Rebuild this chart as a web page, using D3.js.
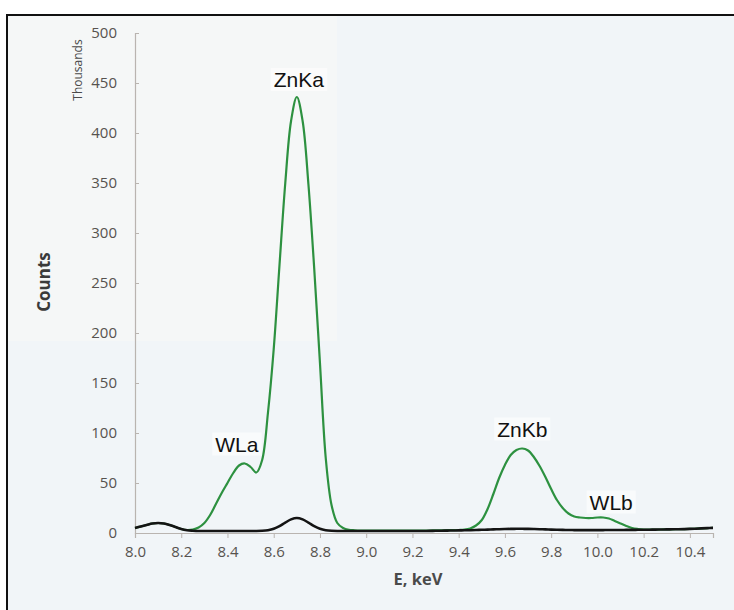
<!DOCTYPE html>
<html>
<head>
<meta charset="utf-8">
<script src="https://cdn.jsdelivr.net/npm/d3@7"></script>
<style>
  html, body { margin: 0; padding: 0; background: #ffffff; }
  svg { display: block; }
</style>
</head>
<body>
<div id="chart"></div>
<script>
// Energy grid, keV
const energy = [
  8.000, 8.025, 8.050, 8.075, 8.100, 8.125, 8.150, 8.175, 8.200, 8.225,
  8.250, 8.275, 8.300, 8.325, 8.350, 8.375, 8.400, 8.425, 8.450, 8.475,
  8.500, 8.525, 8.550, 8.575, 8.600, 8.625, 8.650, 8.675, 8.700, 8.725,
  8.750, 8.775, 8.800, 8.825, 8.850, 8.875, 8.900, 8.925, 8.950, 8.975,
  9.000, 9.025, 9.050, 9.075, 9.100, 9.125, 9.150, 9.175, 9.200, 9.225,
  9.250, 9.275, 9.300, 9.325, 9.350, 9.375, 9.400, 9.425, 9.450, 9.475,
  9.500, 9.525, 9.550, 9.575, 9.600, 9.625, 9.650, 9.675, 9.700, 9.725,
  9.750, 9.775, 9.800, 9.825, 9.850, 9.875, 9.900, 9.925, 9.950, 9.975,
  10.000, 10.025, 10.050, 10.075, 10.100, 10.125, 10.150, 10.175, 10.200, 10.225,
  10.250, 10.275, 10.300, 10.325, 10.350, 10.375, 10.400, 10.425, 10.450, 10.475,
  10.500
];

// Counts (thousands) of the zinc-bearing sample, green trace
const countsZn = [
  5, 6.5, 8, 9.5, 10, 9.5, 8, 6, 4, 3,
  3.5, 5.5, 10, 18, 29, 40, 50, 60, 67.5, 69.5,
  66, 60.5, 73, 120, 184, 268, 350, 412, 436, 412,
  349, 265, 170, 75, 28, 10, 5, 3.2, 2.7, 2.4,
  2.3, 2.3, 2.3, 2.3, 2.3, 2.3, 2.3, 2.3, 2.3, 2.4,
  2.4, 2.5, 2.6, 2.7, 2.8, 2.9, 3.0, 3.3, 4.5, 7.5,
  13, 24, 39, 55, 68, 78, 83, 84.5, 82.5, 76,
  67, 56, 44, 33, 25, 19.5, 16.5, 15.5, 15, 15,
  15.5, 15.5, 14.5, 12, 9.5, 7, 5, 4, 3.4, 3.3,
  3.4, 3.5, 3.6, 3.7, 3.8, 3.9, 4.1, 4.3, 4.6, 4.9,
  5.1
];

// Counts (thousands) of the blank, black trace
const countsBlank = [
  5, 6.5, 8, 9.5, 10, 9.5, 8, 6, 4, 2.8,
  2.3, 2, 2, 2, 2, 2, 2, 2, 2, 2,
  2, 2, 2.2, 2.8, 4.2, 6.8, 10.4, 13.6, 15, 13.6,
  10.4, 6.8, 4.2, 2.8, 2.2, 2, 2, 2, 2, 2,
  2, 2, 2, 2, 2, 2, 2, 2, 2, 2,
  2, 2.1, 2.2, 2.3, 2.4, 2.5, 2.6, 2.7, 2.8, 3,
  3.2, 3.4, 3.6, 3.8, 4, 4.1, 4.2, 4.2, 4.1, 4,
  3.8, 3.6, 3.4, 3.2, 3.1, 3, 2.9, 2.9, 2.9, 2.9,
  2.9, 2.9, 3, 3, 3, 3.1, 3.1, 3.2, 3.2, 3.3,
  3.4, 3.5, 3.6, 3.7, 3.8, 3.9, 4.1, 4.3, 4.6, 4.9,
  5.1
];

// Axis ticks
const xTicks = [8.0, 8.2, 8.4, 8.6, 8.8, 9.0, 9.2, 9.4, 9.6, 9.8, 10.0, 10.2, 10.4];
const yTicks = [0, 50, 100, 150, 200, 250, 300, 350, 400, 450, 500];

// Peak annotations: line name, energy (keV), height (thousands)
const peakNames = ["WLa", "ZnKa", "ZnKb", "WLb"];
const peakEnergy = [8.475, 8.700, 9.675, 10.025];
const peakHeight = [69.5, 436, 84.5, 15.5];

const W = 734, H = 610;
const plot = { left: 135, right: 713, top: 33, bottom: 533 };

const svg = d3.select("#chart").append("svg")
  .attr("width", W).attr("height", H);

// chart area background and frame
svg.append("rect")
  .attr("x", 7).attr("y", 15).attr("width", W + 10).attr("height", H + 10)
  .attr("fill", "#f1f5f8").attr("stroke", "#111").attr("stroke-width", 2);
svg.append("rect")
  .attr("x", 8).attr("y", 16).attr("width", 329).attr("height", 325)
  .attr("fill", "#f5f7f7");

const x = d3.scaleLinear().domain([8.0, 10.5]).range([plot.left, plot.right]);
const y = d3.scaleLinear().domain([0, 500]).range([plot.bottom, plot.top]);

// y axis (ticks point into the plot)
const yAxis = svg.append("g")
  .attr("transform", `translate(${plot.left},0)`)
  .call(d3.axisLeft(y).tickValues(yTicks).tickSize(-4).tickPadding(18).tickFormat(d3.format("d")));
yAxis.select(".domain").attr("stroke", "#b9b4b0").attr("stroke-width", 1.2);
yAxis.selectAll(".tick line").attr("stroke", "#b9b4b0");
yAxis.selectAll(".tick text")
  .attr("font-family", "'Open Sans', sans-serif").attr("font-size", 15)
  .attr("fill", "#57534f");

// x axis
const xAxis = svg.append("g")
  .attr("transform", `translate(0,${plot.bottom})`)
  .call(d3.axisBottom(x).tickValues(xTicks).tickSize(5).tickPadding(8).tickFormat(d3.format(".1f")));
xAxis.select(".domain").attr("stroke", "#b9b4b0").attr("stroke-width", 1.2);
xAxis.selectAll(".tick line").attr("stroke", "#b9b4b0");
xAxis.selectAll(".tick text")
  .attr("font-family", "'Open Sans', sans-serif").attr("font-size", 15)
  .attr("fill", "#57534f");

// axis titles
svg.append("text")
  .attr("transform", `translate(50,282) rotate(-90)`)
  .attr("text-anchor", "middle")
  .attr("font-family", "'Open Sans', sans-serif").attr("font-weight", "bold")
  .attr("font-size", 17).attr("fill", "#3a3a3a")
  .text("Counts");
svg.append("text")
  .attr("transform", `translate(82,70) rotate(-90)`)
  .attr("text-anchor", "middle")
  .attr("font-family", "'Open Sans', sans-serif")
  .attr("font-size", 12).attr("fill", "#4a4a4a")
  .text("Thousands");
svg.append("text")
  .attr("x", 418).attr("y", 585)
  .attr("text-anchor", "middle")
  .attr("font-family", "'Open Sans', sans-serif").attr("font-weight", "bold")
  .attr("font-size", 16.5).attr("fill", "#4a4a4a")
  .text("E, keV");

// spectra
const line = (vals) => d3.line()
  .x((d, i) => x(energy[i]))
  .y(d => y(d))
  .curve(d3.curveCatmullRom.alpha(0.5))(vals);

svg.append("path")
  .attr("d", line(countsZn))
  .attr("fill", "none").attr("stroke", "#2d9140").attr("stroke-width", 2.2);
svg.append("path")
  .attr("d", line(countsBlank))
  .attr("fill", "none").attr("stroke", "#141414").attr("stroke-width", 2.6);

// peak labels, nudged sideways where the curve is crowded
const labelOffset = [12, 10, 12, 8];
const labelShift = [-8, 2, 0, 8];
const lbl = svg.append("g");
peakNames.forEach((name, i) => {
  const cx = x(peakEnergy[i]) + labelShift[i];
  const by = y(peakHeight[i]) - labelOffset[i];
  const t = lbl.append("text")
    .attr("x", cx).attr("y", by)
    .attr("text-anchor", "middle")
    .attr("font-family", "'Liberation Sans', Arial, sans-serif")
    .attr("font-size", 21).attr("fill", "#111")
    .text(name);
  const bb = t.node().getBBox();
  lbl.insert("rect", "text")
    .attr("x", bb.x - 3).attr("y", bb.y)
    .attr("width", bb.width + 6).attr("height", bb.height)
    .attr("fill", "#ffffff").attr("opacity", 0.55);
});
</script>
</body>
</html>
